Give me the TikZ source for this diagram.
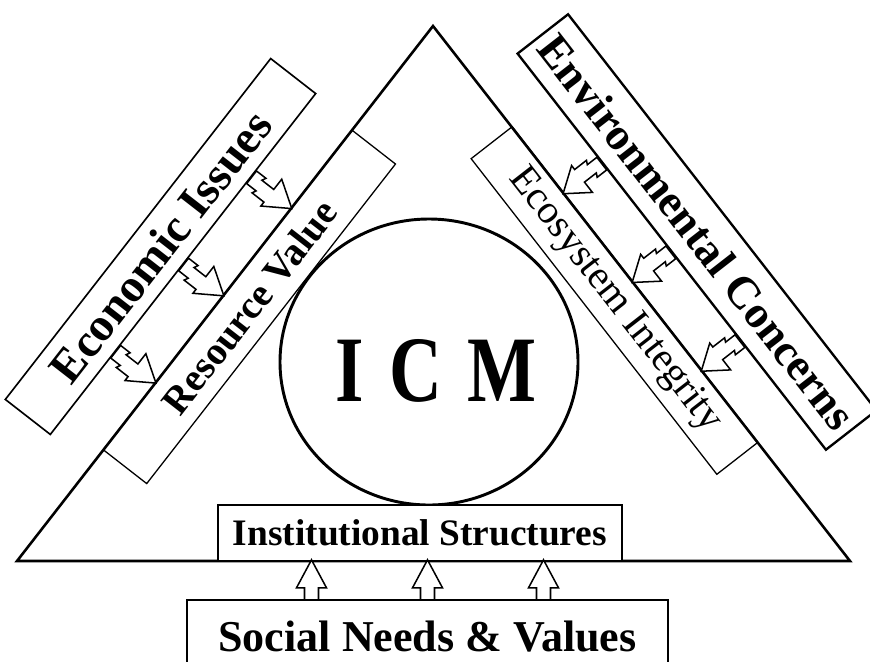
\documentclass[tikz,border=0pt]{standalone}
\usepackage{fontspec}
\setmainfont{Liberation Serif}
\usetikzlibrary{calc,shapes.geometric}
\tikzset{
  sidebox/.style={draw,rectangle,inner sep=0pt},
  bigbf/.style={font=\fontsize{#1}{#1}\selectfont\bfseries},
  jagarrow/.pic={\draw[line width=1.3pt,fill=white,line join=miter]
    (0,8)--(12,8)--(10,12)--(25,12)--(25,17)--(#1,0)--(25,-17)--(25,-4)--(10,-4)--(12,-8)--(0,-8)--cycle;},
}
\begin{document}
\begin{tikzpicture}[x=0.3mm,y=-0.3mm]
\useasboundingbox (0,0) rectangle (870,661);
\clip (0,0) rectangle (870,661);
\fill[white] (0,0) rectangle (870,661);
\pgfmathsetmacro{\kang}{52.1}
\coordinate (top) at (433,26);
\coordinate (bl) at (17,561);
\coordinate (br) at (850,561);
\node[sidebox,line width=1.4pt,rotate=\kang,minimum width=432*0.3mm,minimum height=57*0.3mm,bigbf=40] (econ) at (160.5,246.5) {Economic Issues};
\node[sidebox,line width=2pt,rotate=-\kang,minimum width=502*0.3mm,minimum height=64*0.3mm,bigbf=38.7] (envcon) at (697,232) {Environmental Concerns};
\node[sidebox,line width=1.1pt,rotate=\kang,minimum width=405*0.3mm,minimum height=55*0.3mm,bigbf=33.5] (resval) at (249.4,306.9) {Resource Value};
\node[sidebox,line width=1.1pt,rotate=-\kang,minimum width=400*0.3mm,minimum height=52*0.3mm,font=\fontsize{34.4}{34.4}\selectfont] (ecoint) at (614.5,300.5) {Ecosystem Integrity};
\draw[line width=2.2pt,line join=miter] (top)--(bl)--(br)--cycle;
\node[ellipse,draw,line width=2.5pt,inner sep=0pt,minimum width=298*0.3mm,minimum height=286*0.3mm] (icm) at (429,362) {};
\node[bigbf=80,xscale=0.78,inner sep=0pt] (icmlabel) at ($(icm.center)+(7,9)$) {I\hspace{0.35em}C\hspace{0.35em}M};
\node[sidebox,line width=1.8pt,fill=white,minimum width=404*0.3mm,minimum height=56*0.3mm,bigbf=31.9] (inst) at (420,533) {Institutional Structures};
\node[sidebox,line width=2pt,minimum width=481*0.3mm,minimum height=74*0.3mm,bigbf=37.6] (social) at (427.5,637) {Social Needs \& Values};
\foreach \f in {0.245,0.5,0.755}{\pic[rotate=-90+\kang] at ($(econ.south west)!\f!(econ.south east)$) {jagarrow=51};}
\foreach \f in {0.277,0.5,0.723}{\pic[rotate=-90-\kang] at ($(envcon.south west)!\f!(envcon.south east)$) {jagarrow=49};}
\foreach \f in {0.26,0.5,0.74}{\draw[line width=1.3pt,fill=white,line join=miter]($(social.north west)!\f!(social.north east)$)++(-7,0)--++(0,-11)--++(-8,0)--++(15,-28)--++(15,28)--++(-8,0)--++(0,11);}
\end{tikzpicture}
\end{document}
